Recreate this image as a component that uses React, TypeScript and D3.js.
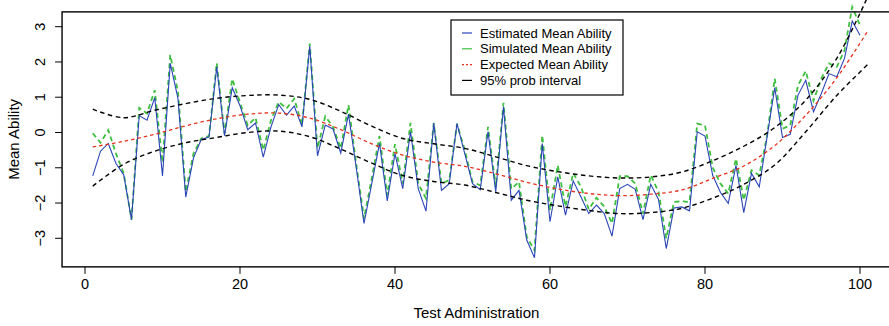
import React from 'react';
import * as d3 from 'd3';

// Mean ability per test administration (administrations 1..100)
const estimated = [
  -1.23, -0.53, -0.31, -0.88, -1.2, -2.47, 0.48, 0.35, 0.99, -1.23,
  1.96, 0.96, -1.83, -0.72, -0.2, -0.13, 1.86, -0.09, 1.27, 0.76,
  0.08, 0.27, -0.7, 0.16, 0.79, 0.49, 0.75, 0.16, 2.45, -0.66,
  0.21, 0.1, -0.58, 0.52, -1.0, -2.58, -1.45, -0.31, -1.94, -0.6,
  -1.59, 0.02, -1.59, -2.23, 0.27, -1.64, -1.45, 0.25, -0.6, -1.45,
  -1.62, 0.02, -1.68, 0.73, -1.92, -1.64, -3.05, -3.55, -0.31, -2.53,
  -1.26, -2.34, -1.37, -1.83, -2.3, -2.06, -2.3, -2.94, -1.59, -1.47,
  -1.61, -2.47, -1.47, -1.9, -3.29, -2.14, -2.11, -2.22, 0.02, -0.1,
  -1.22, -1.7, -2.01, -0.93, -2.27, -1.16, -1.54, -0.14, 1.27, -0.14,
  -0.05, 1.06, 1.48, 0.59, 1.1, 1.67, 1.58, 2.1, 3.16, 2.76,
];

const simulated = [
  -0.02, -0.29, 0.07, -0.6, -1.16, -2.47, 0.7, 0.54, 1.2, -0.85,
  2.2, 1.15, -1.68, -0.6, -0.17, -0.1, 1.97, -0.03, 1.52, 0.85,
  0.2, 0.42, -0.5, 0.35, 0.87, 0.68, 0.96, 0.21, 2.52, -0.45,
  0.46, 0.16, -0.45, 0.78, -0.9, -2.44, -1.3, -0.1, -1.78, -0.33,
  -1.45, 0.27, -1.45, -1.87, 0.27, -1.45, -1.35, 0.25, -0.5, -1.4,
  -1.5, 0.16, -1.54, 0.84, -1.6, -1.4, -2.96, -3.34, -0.08, -2.2,
  -0.93, -2.1, -1.15, -1.54, -2.18, -1.85, -2.1, -2.58, -1.24, -1.24,
  -1.45, -2.3, -1.21, -1.68, -3.0, -1.97, -1.95, -1.97, 0.25, 0.2,
  -1.0, -1.45, -1.73, -0.74, -1.92, -1.07, -1.21, -0.1, 1.53, 0.11,
  0.2, 1.34, 1.74, 0.9, 1.53, 1.96, 1.86, 2.33, 3.56, 3.04,
];

// Expected curve and 95% interval, sampled at these administrations
const curveIndex = [1, 5, 9, 13, 17, 21, 25, 29, 33, 37, 41, 45, 49, 53, 57, 61, 65, 69, 73, 77, 81, 85, 89, 93, 97, 101];
const expected = [-0.41, -0.25, -0.05, 0.19, 0.39, 0.52, 0.55, 0.41, 0.08, -0.32, -0.64, -0.84, -0.96, -1.17, -1.41, -1.6, -1.73, -1.79, -1.75, -1.63, -1.3, -0.95, -0.37, 0.49, 1.55, 2.88];
const upper95 = [0.66, 0.42, 0.63, 0.82, 0.97, 1.05, 1.06, 0.94, 0.6, 0.18, -0.17, -0.32, -0.45, -0.69, -0.94, -1.11, -1.23, -1.29, -1.26, -1.12, -0.8, -0.39, 0.14, 0.92, 2.1, 3.85];
const lower95 = [-1.52, -0.9, -0.53, -0.29, -0.14, 0.0, 0.04, -0.12, -0.47, -0.87, -1.22, -1.39, -1.49, -1.7, -1.92, -2.08, -2.21, -2.3, -2.27, -2.15, -1.86, -1.47, -0.92, 0.02, 1.05, 1.93];

const xTicks = [0, 20, 40, 60, 80, 100];
const yTicks = [-3, -2, -1, 0, 1, 2, 3];
const legendLabels = ['Estimated Mean Ability', 'Simulated Mean Ability', 'Expected Mean Ability', '95% prob interval'];

const W = 889;
const H = 326;
const FONT = '"Liberation Sans", Arial, Helvetica, sans-serif';

const BLUE = '#2b45b8';
const GREEN = '#3fbf3f';
const RED = '#e8321e';

export default function App() {
  const x = d3.scaleLinear().domain([0, 100]).range([85, 860]);
  const y = d3.scaleLinear().domain([-3, 3]).range([238.3, 26.7]);
  const xlim = [-2.96, 103.96];
  const ylim = [-3.81, 3.42];

  const left = x(xlim[0]);
  const right = x(xlim[1]);
  const top = y(ylim[1]);
  const bottom = y(ylim[0]);

  const seriesLine = d3
    .line<number>()
    .x((_, i) => x(i + 1))
    .y((d) => y(d));

  const smoothLine = (vals: number[]) =>
    d3
      .line<number>()
      .x((_, i) => x(curveIndex[i]))
      .y((d) => y(d))
      .curve(d3.curveCatmullRom.alpha(0.5))(vals) as string;

  const legendRows = [
    { label: legendLabels[0], color: BLUE, dash: undefined, width: 1.2 },
    { label: legendLabels[1], color: GREEN, dash: undefined, width: 1.2 },
    { label: legendLabels[2], color: RED, dash: '2,2', width: 1.2 },
    { label: legendLabels[3], color: '#000', dash: undefined, width: 1.2 },
  ];

  return (
    <svg
      width={W}
      height={H}
      viewBox={`0 0 ${W} ${H}`}
      style={{ position: 'absolute', left: 0, top: 0, background: '#fff' }}
      fontFamily={FONT}
    >
      <rect x={0} y={0} width={W} height={H} fill="#fff" />

      {/* data series */}
      <path d={seriesLine(simulated) as string} fill="none" stroke={GREEN} strokeWidth={1.8} strokeDasharray="5,3.5" />
      <path d={seriesLine(estimated) as string} fill="none" stroke={BLUE} strokeWidth={1.1} />
      <path d={smoothLine(expected)} fill="none" stroke={RED} strokeWidth={1.3} strokeDasharray="3.5,3" />
      <path d={smoothLine(upper95)} fill="none" stroke="#000" strokeWidth={1.4} strokeDasharray="4.5,3.5" />
      <path d={smoothLine(lower95)} fill="none" stroke="#000" strokeWidth={1.4} strokeDasharray="4.5,3.5" />

      {/* plot frame */}
      <rect x={left} y={top} width={right - left} height={bottom - top} fill="none" stroke="#000" strokeWidth={1.4} />

      {/* x axis */}
      {xTicks.map((t) => (
        <g key={`x${t}`}>
          <line x1={x(t)} x2={x(t)} y1={bottom} y2={bottom + 7} stroke="#000" strokeWidth={1} />
          <text x={x(t)} y={289} textAnchor="middle" fontSize={14.5} fill="#000">
            {t}
          </text>
        </g>
      ))}
      <text x={(left + right) / 2} y={318} textAnchor="middle" fontSize={15} fill="#000">
        Test Administration
      </text>

      {/* y axis */}
      {yTicks.map((t) => (
        <g key={`y${t}`}>
          <line x1={left} x2={left - 7} y1={y(t)} y2={y(t)} stroke="#000" strokeWidth={1} />
          <text
            transform={`translate(45,${y(t)}) rotate(-90)`}
            textAnchor="middle"
            fontSize={14.5}
            fill="#000"
          >
            {t < 0 ? `\u2212${Math.abs(t)}` : t}
          </text>
        </g>
      ))}
      <text
        transform={`translate(19,${(top + bottom) / 2}) rotate(-90)`}
        textAnchor="middle"
        fontSize={15}
        fill="#000"
      >
        Mean Ability
      </text>

      {/* legend */}
      <rect x={451} y={20} width={172} height={75} fill="#fff" stroke="#000" strokeWidth={1.2} />
      {legendRows.map((r, i) => {
        const cy = 33 + i * 15.8;
        return (
          <g key={r.label}>
            <line x1={462} x2={472} y1={cy} y2={cy} stroke={r.color} strokeWidth={r.width} strokeDasharray={r.dash} />
            <text x={480} y={cy} dy="0.35em" fontSize={13} fill="#000">
              {r.label}
            </text>
          </g>
        );
      })}
    </svg>
  );
}
